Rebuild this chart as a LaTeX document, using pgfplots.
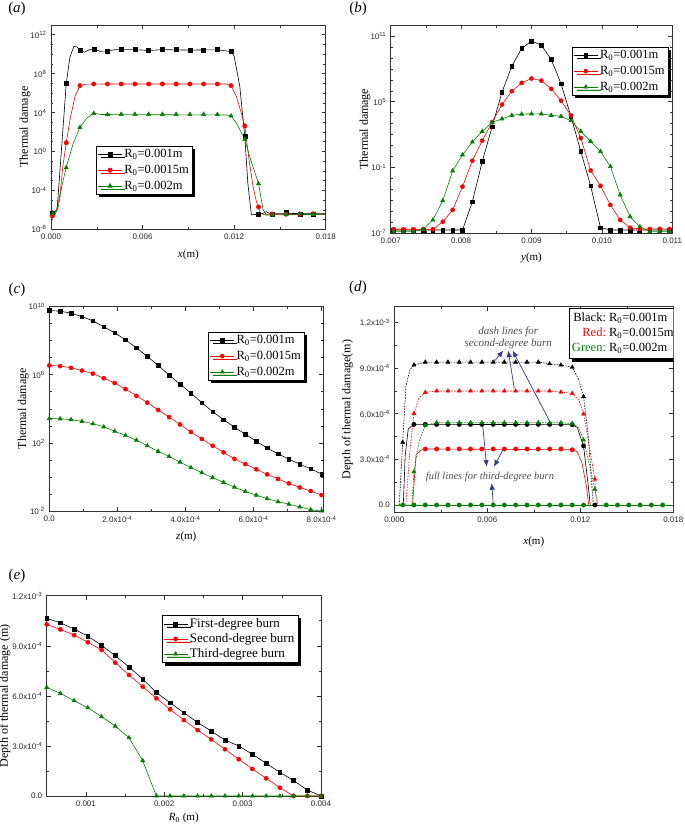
\documentclass[border=0pt]{standalone}
\usepackage{pgfplots}
\pgfplotsset{compat=1.18}
\usepackage{fontspec}
\setmainfont{Liberation Serif}
\newfontfamily\arial{Liberation Sans}
\usetikzlibrary{shadows,arrows.meta}
\definecolor{ogreen}{RGB}{0,128,0}
\definecolor{arrowblue}{RGB}{45,55,150}

\pgfplotsset{
  panel/.style={
    scale only axis, anchor=south west,
    axis line style={black!80, line width=0.6pt},
    tick align=inside, tick pos=both,
    xticklabel pos=left, yticklabel pos=left,
    major tick length=4pt, minor tick length=2.5pt,
    tick style={black!80, line width=0.5pt},
    ticklabel style={font=\arial\fontsize{8}{9}\selectfont, text=black!85},
    xticklabel style={yshift=-1.5pt},
    yticklabel style={xshift=-1pt},
    xlabel style={font=\fontsize{11}{12}\selectfont},
    ylabel style={font=\fontsize{12}{13}\selectfont},
    scaled ticks=false,
    legend cell align=left,
    legend style={draw=black, line width=0.5pt, fill=white, inner sep=1.5pt,
      font=\fontsize{12.5}{13}\selectfont, row sep=2pt,
      drop shadow={shadow xshift=3pt, shadow yshift=-3pt, fill=black, opacity=1}},
    legend image code/.code={\draw[mark repeat=2,mark phase=2,#1] plot coordinates {(0pt,0pt)(12pt,0pt)(24pt,0pt)};},
  },
  lk/.style={black, line width=0.6pt},
  lr/.style={red, line width=0.6pt},
  lg/.style={ogreen, line width=0.6pt},
  dsh/.style={line width=0.6pt, dash pattern=on 1.6pt off 1.2pt},
}

\begin{document}
\begin{tikzpicture}
\useasboundingbox (0pt,0pt) rectangle (685pt,-828pt);

\node[font=\fontsize{15}{16}\selectfont] at (17pt,-8.5pt) {(\textit{a})};
\node[font=\fontsize{15}{16}\selectfont] at (358pt,-8.5pt) {(\textit{b})};
\node[font=\fontsize{15}{16}\selectfont] at (17pt,-290pt) {(\textit{c})};
\node[font=\fontsize{15}{16}\selectfont] at (358pt,-288pt) {(\textit{d})};
\node[font=\fontsize{15}{16}\selectfont] at (17pt,-576pt) {(\textit{e})};

% ---------------- (a)
\begin{axis}[panel, at={(51pt,-229.3pt)}, width=274.7pt, height=204.3pt,
  xmin=0, xmax=0.018, ymode=log, ymin=1e-8, ymax=1e13,
  xtick={0,0.006,0.012,0.018}, xticklabels={0.000,0.006,0.012,0.018},
  minor xtick={0.003,0.009,0.015},
  ytick={1e-8,1e-4,1,1e4,1e8,1e12},
  yticklabels={10\textsuperscript{-8},10\textsuperscript{-4},10\textsuperscript{0},10\textsuperscript{4},10\textsuperscript{8},10\textsuperscript{12}},
  minor ytick={1e-7,1e-6,1e-5,1e-3,1e-2,1e-1,1e1,1e2,1e3,1e5,1e6,1e7,1e9,1e10,1e11},
  xlabel={\textit{x}(m)}, ylabel={Thermal damage},
  xlabel style={at={(axis description cs:0.5,-0.126)}, anchor=center},
  ylabel style={at={(axis description cs:-0.095,0.5)}, anchor=center},
  legend style={at={(0.164,0.409)}, anchor=north west},
]
\addlegendimage{lk, mark=square*, mark size=2pt}
\addlegendentry{R\textsubscript{0}=0.001m}
\addlegendimage{lr, mark=*, mark size=2.2pt}
\addlegendentry{R\textsubscript{0}=0.0015m}
\addlegendimage{lg, mark=triangle*, mark size=2.5pt}
\addlegendentry{R\textsubscript{0}=0.002m}

\addplot[lk, forget plot] table[row sep=\\, x=x, y expr={10^(\thisrow{e})}] {
x e\\ 0 -6.3\\ 0.0002 -6.3\\ 0.0004 -6.0\\ 0.0007 0.5\\ 0.001 7.0\\ 0.00124 9.7\\
0.0015 10.8\\ 0.0017 10.75\\ 0.0019 10.43\\ 0.0022 10.2\\ 0.0025 10.45\\ 0.0028 10.55\\
0.0032 10.3\\ 0.0037 10.33\\ 0.0042 10.47\\ 0.0055 10.47\\ 0.0064 10.38\\ 0.0073 10.47\\
0.0091 10.42\\ 0.0109 10.45\\ 0.0118 10.27\\ 0.012 9.8\\ 0.01237 6.7\\ 0.0127 1.5\\
0.0129 -3.3\\ 0.01313 -6.5\\ 0.0136 -6.46\\ 0.0139 -6.35\\ 0.0141 -6.2\\ 0.0143 -6.35\\ 0.018 -6.4\\
};
\addplot[lr, forget plot] table[row sep=\\, x=x, y expr={10^(\thisrow{e})}] {
x e\\ 0 -6.6\\ 0.0002 -6.5\\ 0.0004 -5.8\\ 0.0006 -4.3\\ 0.00077 -1.6\\ 0.001 0.9\\
0.00124 3.24\\ 0.00157 5.64\\ 0.0019 6.77\\ 0.0023 6.93\\ 0.0115 6.94\\ 0.0118 6.77\\
0.01215 5.64\\ 0.01241 4.27\\ 0.0127 2.62\\ 0.01298 -0.87\\ 0.01324 -3.62\\ 0.01346 -5.16\\
0.0136 -5.74\\ 0.0137 -6.35\\ 0.014 -6.5\\ 0.018 -6.45\\
};
\addplot[lg, forget plot] table[row sep=\\, x=x, y expr={10^(\thisrow{e})}] {
x e\\ 0 -6.4\\ 0.00026 -6.5\\ 0.00048 -5.67\\ 0.0007 -3.62\\ 0.001 -1.6\\ 0.00146 0.85\\
0.0019 2.5\\ 0.00234 3.42\\ 0.0028 3.93\\ 0.0033 3.8\\ 0.0115 3.75\\ 0.0118 3.66\\
0.01215 2.9\\ 0.0127 1.26\\ 0.01302 -0.53\\ 0.0136 -3.3\\ 0.0139 -6.0\\ 0.01412 -6.53\\ 0.018 -6.45\\
};
\addplot[black, only marks, mark=square*, mark size=2pt, forget plot] table[row sep=\\, x=x, y expr={10^(\thisrow{e})}] {
x e\\ 0.0001 -6.36\\ 0.001 7.0\\ 0.0019 10.43\\ 0.0028 10.53\\ 0.0037 10.33\\ 0.0046 10.47\\
0.0055 10.47\\ 0.0064 10.36\\ 0.0073 10.47\\ 0.0082 10.47\\ 0.0091 10.4\\ 0.01 10.43\\
0.0109 10.47\\ 0.0118 10.26\\ 0.0127 1.52\\ 0.0136 -6.46\\ 0.0145 -6.4\\ 0.0154 -6.29\\
0.0163 -6.4\\ 0.0172 -6.4\\
};
\addplot[red, only marks, mark=*, mark size=2.2pt, forget plot] table[row sep=\\, x=x, y expr={10^(\thisrow{e})}] {
x e\\ 0.0001 -6.63\\ 0.001 0.9\\ 0.0019 6.77\\ 0.0028 6.94\\ 0.0037 6.94\\ 0.0046 6.94\\
0.0055 6.94\\ 0.0064 6.94\\ 0.0073 6.94\\ 0.0082 6.94\\ 0.0091 6.94\\ 0.01 6.94\\
0.0109 6.94\\ 0.0118 6.77\\ 0.0127 2.62\\ 0.0136 -5.7\\ 0.0145 -6.42\\ 0.0154 -6.45\\
0.0163 -6.45\\ 0.0172 -6.4\\
};
\addplot[ogreen, only marks, mark=triangle*, mark size=2.5pt, forget plot] table[row sep=\\, x=x, y expr={10^(\thisrow{e})}] {
x e\\ 0.0001 -6.36\\ 0.001 -1.66\\ 0.0019 2.48\\ 0.0028 3.92\\ 0.0037 3.79\\ 0.0046 3.82\\
0.0055 3.82\\ 0.0064 3.82\\ 0.0073 3.82\\ 0.0082 3.82\\ 0.0091 3.82\\ 0.01 3.82\\
0.0109 3.8\\ 0.0118 3.65\\ 0.0127 1.25\\ 0.0136 -3.31\\ 0.0145 -6.53\\ 0.0154 -6.46\\
0.0163 -6.4\\ 0.0172 -6.46\\
};
\end{axis}

% ---------------- (b)
\begin{axis}[panel, at={(390.7pt,-233.3pt)}, width=281.6pt, height=208.3pt,
  xmin=0.007, xmax=0.011, ymode=log, ymin=1e-7, ymax=1e12,
  xtick={0.007,0.008,0.009,0.010,0.011}, xticklabels={0.007,0.008,0.009,0.010,0.011},
  minor xtick={0.0075,0.0085,0.0095,0.0105},
  ytick={1e-7,1e-1,1e5,1e11},
  yticklabels={10\textsuperscript{-7},10\textsuperscript{-1},10\textsuperscript{5},10\textsuperscript{11}},
  minor ytick={1e-6,1e-5,1e-4,1e-3,1e-2,1,1e1,1e2,1e3,1e4,1e6,1e7,1e8,1e9,1e10},
  xlabel={\textit{y}(m)}, ylabel={Thermal damage},
  xlabel style={at={(axis description cs:0.5,-0.12)}, anchor=center},
  ylabel style={at={(axis description cs:-0.091,0.5)}, anchor=center},
  legend style={at={(0.643,0.896)}, anchor=north west},
]
\addplot[lk, mark=square*, mark size=1.8pt] table[row sep=\\, x=x, y expr={10^(\thisrow{e})}] {
x e\\ 0.00704 -6.7\\ 0.00718 -6.7\\ 0.00732 -6.7\\ 0.00746 -6.7\\ 0.0076 -6.7\\ 0.00774 -6.7\\
0.00788 -6.7\\ 0.00802 -6.7\\ 0.00816 -4.11\\ 0.0083 -0.45\\ 0.00844 2.70\\ 0.00858 5.86\\
0.00872 8.24\\ 0.00886 9.86\\ 0.009 10.53\\ 0.00914 10.16\\ 0.00928 8.86\\ 0.00942 6.63\\
0.00956 3.67\\ 0.0097 0.47\\ 0.00984 -2.67\\ 0.00998 -6.49\\ 0.01012 -6.7\\ 0.01026 -6.7\\
0.0104 -6.7\\ 0.01054 -6.7\\ 0.01068 -6.7\\ 0.01082 -6.7\\ 0.01096 -6.7\\
};
\addlegendentry{R\textsubscript{0}=0.001m}
\addplot[lr, mark=*, mark size=2pt] table[row sep=\\, x=x, y expr={10^(\thisrow{e})}] {
x e\\ 0.00704 -6.63\\ 0.00718 -6.63\\ 0.00732 -6.63\\ 0.00746 -6.63\\ 0.0076 -6.63\\ 0.00774 -5.94\\
0.00788 -4.87\\ 0.00802 -2.74\\ 0.00816 -0.38\\ 0.0083 1.45\\ 0.00844 3.15\\ 0.00858 4.74\\
0.00872 5.96\\ 0.00886 6.72\\ 0.009 7.12\\ 0.00914 6.93\\ 0.00928 6.17\\ 0.00942 5.1\\
0.00956 3.76\\ 0.0097 1.69\\ 0.00984 -1.27\\ 0.00998 -2.67\\ 0.01012 -4.41\\ 0.01026 -5.78\\
0.0104 -6.49\\ 0.01054 -6.6\\ 0.01068 -6.6\\ 0.01082 -6.6\\ 0.01096 -6.6\\
};
\addlegendentry{R\textsubscript{0}=0.0015m}
\addplot[lg, mark=triangle*, mark size=2.3pt] table[row sep=\\, x=x, y expr={10^(\thisrow{e})}] {
x e\\ 0.00704 -6.85\\ 0.00718 -6.85\\ 0.00732 -6.85\\ 0.00746 -6.63\\ 0.0076 -5.78\\ 0.00774 -4.02\\
0.00788 -1.3\\ 0.00802 0.16\\ 0.00816 1.33\\ 0.0083 2.3\\ 0.00844 3.12\\ 0.00858 3.43\\
0.00872 3.76\\ 0.00886 3.87\\ 0.009 3.89\\ 0.00914 3.89\\ 0.00928 3.76\\ 0.00942 3.67\\
0.00956 3.27\\ 0.0097 2.3\\ 0.00984 1.39\\ 0.00998 0.47\\ 0.01012 -0.91\\ 0.01026 -3.5\\
0.0104 -5.48\\ 0.01054 -6.4\\ 0.01068 -6.85\\ 0.01082 -6.85\\ 0.01096 -6.85\\
};
\addlegendentry{R\textsubscript{0}=0.002m}
\end{axis}

% ---------------- (c)
\begin{axis}[panel, at={(49.3pt,-511pt)}, width=274pt, height=204.5pt,
  xmin=0, xmax=8.05e-4, ymode=log, ymin=1e-2, ymax=1e10,
  xtick={0,2e-4,4e-4,6e-4,8e-4},
  xticklabels={0.0,2.0x10\textsuperscript{-4},4.0x10\textsuperscript{-4},6.0x10\textsuperscript{-4},8.0x10\textsuperscript{-4}},
  minor xtick={1e-4,3e-4,5e-4,7e-4},
  ytick={1e-2,1e2,1e6,1e10},
  yticklabels={10\textsuperscript{-2},10\textsuperscript{2},10\textsuperscript{6},10\textsuperscript{10}},
  minor ytick={1e-1,1,1e1,1e3,1e4,1e5,1e7,1e8,1e9},
  xlabel={\textit{z}(m)}, ylabel={Thermal damage},
  xlabel style={at={(axis description cs:0.5,-0.126)}, anchor=center},
  ylabel style={at={(axis description cs:-0.095,0.5)}, anchor=center},
  legend style={at={(0.58,0.877)}, anchor=north west},
]
\addplot[lk, smooth, mark=square*, mark size=1.8pt] table[row sep=\\, x=x, y expr={10^(\thisrow{e})}] {
x e\\ 0 9.76\\ 3.2e-5 9.72\\ 6.4e-5 9.6\\ 9.6e-5 9.40\\ 1.28e-4 9.15\\ 1.6e-4 8.81\\
1.92e-4 8.45\\ 2.24e-4 8.04\\ 2.56e-4 7.57\\ 2.88e-4 7.07\\ 3.2e-4 6.54\\ 3.52e-4 5.98\\
3.84e-4 5.45\\ 4.16e-4 4.92\\ 4.48e-4 4.36\\ 4.8e-4 3.83\\ 5.12e-4 3.36\\ 5.44e-4 2.92\\
5.76e-4 2.51\\ 6.08e-4 2.09\\ 6.4e-4 1.70\\ 6.72e-4 1.36\\ 7.04e-4 1.04\\ 7.36e-4 0.75\\
7.68e-4 0.47\\ 8.0e-4 0.17\\
};
\addlegendentry{R\textsubscript{0}=0.001m}
\addplot[lr, smooth, mark=*, mark size=2pt] table[row sep=\\, x=x, y expr={10^(\thisrow{e})}] {
x e\\ 0 6.54\\ 3.2e-5 6.5\\ 6.4e-5 6.4\\ 9.6e-5 6.24\\ 1.28e-4 6.06\\ 1.6e-4 5.79\\
1.92e-4 5.51\\ 2.24e-4 5.15\\ 2.56e-4 4.76\\ 2.88e-4 4.36\\ 3.2e-4 3.93\\ 3.52e-4 3.51\\
3.84e-4 3.08\\ 4.16e-4 2.64\\ 4.48e-4 2.23\\ 4.8e-4 1.83\\ 5.12e-4 1.44\\ 5.44e-4 1.06\\
5.76e-4 0.75\\ 6.08e-4 0.45\\ 6.4e-4 0.15\\ 6.72e-4 -0.12\\ 7.04e-4 -0.38\\ 7.36e-4 -0.62\\
7.68e-4 -0.83\\ 8.0e-4 -1.07\\
};
\addlegendentry{R\textsubscript{0}=0.0015m}
\addplot[lg, smooth, mark=triangle*, mark size=2.3pt] table[row sep=\\, x=x, y expr={10^(\thisrow{e})}] {
x e\\ 0 3.43\\ 3.2e-5 3.41\\ 6.4e-5 3.36\\ 9.6e-5 3.26\\ 1.28e-4 3.12\\ 1.6e-4 2.94\\
1.92e-4 2.68\\ 2.24e-4 2.43\\ 2.56e-4 2.15\\ 2.88e-4 1.83\\ 3.2e-4 1.50\\ 3.52e-4 1.20\\
3.84e-4 0.87\\ 4.16e-4 0.55\\ 4.48e-4 0.25\\ 4.8e-4 -0.04\\ 5.12e-4 -0.32\\ 5.44e-4 -0.60\\
5.76e-4 -0.85\\ 6.08e-4 -1.07\\ 6.4e-4 -1.27\\ 6.72e-4 -1.45\\ 7.04e-4 -1.6\\ 7.36e-4 -1.76\\
7.68e-4 -1.92\\ 8.0e-4 -2.0\\
};
\addlegendentry{R\textsubscript{0}=0.002m}
\end{axis}

% ---------------- (d)
\begin{axis}[panel, at={(394.3pt,-512.3pt)}, width=279pt, height=205.6pt,
  xmin=0, xmax=0.018, ymin=-4.8e-5, ymax=1.303e-3,
  xtick={0,0.006,0.012,0.018}, xticklabels={0.000,0.006,0.012,0.018},
  minor xtick={0.003,0.009,0.015},
  ytick={0,3e-4,6e-4,9e-4,1.2e-3},
  yticklabels={0.0,3.0x10\textsuperscript{-4},6.0x10\textsuperscript{-4},9.0x10\textsuperscript{-4},1.2x10\textsuperscript{-3}},
  minor ytick={1.5e-4,4.5e-4,7.5e-4,1.05e-3},
  xlabel={\textit{x}(m)}, ylabel={Depth of thermal damage(m)},
  xlabel style={at={(axis description cs:0.5,-0.145)}, anchor=center},
  ylabel style={at={(axis description cs:-0.168,0.5)}, anchor=center},
]
% third-degree (solid)
\addplot[lg] coordinates {(0,0) (0.018,0)};
\addplot[lk] coordinates {(0.00058,0) (0.0007,3.2e-4) (0.0009,5.0e-4) (0.00127,5.3e-4)
  (0.01148,5.28e-4) (0.0118,5.1e-4) (0.01221,3.88e-4) (0.0125,1.4e-4) (0.01264,0)};
\addplot[lr] coordinates {(0.00118,0) (0.0014,3.3e-4) (0.0017,3.6e-4) (0.002,3.68e-4)
  (0.01148,3.63e-4) (0.0118,3.5e-4) (0.0121,2.8e-4) (0.0124,1.2e-4) (0.01254,0)};
% second-degree (dashed)
\addplot[black, dsh] coordinates {(0.00032,0) (0.00054,4.12e-4) (0.00075,7.8e-4) (0.00101,8.9e-4)
  (0.00127,9.2e-4) (0.002,9.39e-4) (0.00929,9.39e-4) (0.01002,9.28e-4) (0.01075,9.2e-4)
  (0.01148,9.05e-4) (0.01187,8.3e-4) (0.01221,7.12e-4) (0.01252,4.5e-4) (0.01273,1.5e-4) (0.01284,0)};
\addplot[red, dsh] coordinates {(0.00075,0) (0.001,3.5e-4) (0.00127,6.02e-4) (0.0016,7.05e-4)
  (0.002,7.4e-4) (0.00273,7.49e-4) (0.01002,7.49e-4) (0.01075,7.42e-4) (0.01148,7.33e-4)
  (0.0119,6.9e-4) (0.01221,5.98e-4) (0.0125,4.3e-4) (0.01294,1.69e-4) (0.01305,0)};
\addplot[ogreen, dsh] coordinates {(0.00113,0) (0.00127,2.19e-4) (0.0016,4.2e-4) (0.002,5.25e-4)
  (0.00273,5.41e-4) (0.01075,5.41e-4) (0.01148,5.35e-4) (0.0119,5.1e-4) (0.01221,4.27e-4)
  (0.0126,2.6e-4) (0.01294,1.03e-4) (0.01315,0)};
% markers
\addplot[black, only marks, mark=*, mark size=2.2pt] coordinates {(0.00127,5.3e-4) (0.002,5.3e-4)
  (0.00273,5.3e-4) (0.00346,5.3e-4) (0.00419,5.3e-4) (0.00492,5.3e-4) (0.00565,5.3e-4) (0.00638,5.3e-4)
  (0.0071,5.3e-4) (0.00783,5.3e-4) (0.00856,5.3e-4) (0.00929,5.3e-4) (0.01002,5.3e-4) (0.01075,5.3e-4)
  (0.01148,5.28e-4) (0.01221,3.88e-4)};
\addplot[red, only marks, mark=*, mark size=2.2pt] coordinates {(0.002,3.68e-4)
  (0.00273,3.68e-4) (0.00346,3.68e-4) (0.00419,3.68e-4) (0.00492,3.68e-4) (0.00565,3.68e-4) (0.00638,3.68e-4)
  (0.0071,3.68e-4) (0.00783,3.68e-4) (0.00856,3.68e-4) (0.00929,3.68e-4) (0.01002,3.68e-4) (0.01075,3.68e-4)
  (0.01148,3.63e-4)};
\addplot[ogreen, only marks, mark=*, mark size=2.2pt] coordinates {(0.00054,0) (0.00127,0) (0.002,0)
  (0.00273,0) (0.00346,0) (0.00419,0) (0.00492,0) (0.00565,0) (0.00638,0) (0.0071,0) (0.00783,0)
  (0.00856,0) (0.00929,0) (0.01002,0) (0.01075,0) (0.01148,0) (0.01221,0) (0.01367,0)
  (0.0144,0) (0.01513,0) (0.01586,0) (0.01659,0) (0.01731,0)};
\addplot[black, only marks, mark=*, mark size=2.2pt] coordinates {(0.01294,0)};
\addplot[black, only marks, mark=triangle*, mark size=2.4pt] coordinates {(0.00054,4.12e-4)
  (0.00127,9.2e-4) (0.002,9.39e-4) (0.00273,9.39e-4) (0.00346,9.39e-4) (0.00419,9.39e-4)
  (0.00492,9.39e-4) (0.00565,9.39e-4) (0.00638,9.39e-4) (0.0071,9.39e-4) (0.00783,9.39e-4)
  (0.00856,9.39e-4) (0.00929,9.39e-4) (0.01002,9.28e-4) (0.01075,9.2e-4) (0.01148,9.05e-4)
  (0.01221,7.12e-4)};
\addplot[red, only marks, mark=triangle*, mark size=2.4pt] coordinates {(0.00127,6.02e-4)
  (0.002,7.4e-4) (0.00273,7.49e-4) (0.00346,7.49e-4) (0.00419,7.49e-4) (0.00492,7.49e-4)
  (0.00565,7.49e-4) (0.00638,7.49e-4) (0.0071,7.49e-4) (0.00783,7.49e-4) (0.00856,7.49e-4)
  (0.00929,7.49e-4) (0.01002,7.49e-4) (0.01075,7.42e-4) (0.01148,7.33e-4) (0.01221,5.98e-4)
  (0.01294,1.69e-4)};
\addplot[ogreen, only marks, mark=triangle*, mark size=2.4pt] coordinates {(0.00127,2.19e-4)
  (0.002,5.25e-4) (0.00273,5.41e-4) (0.00346,5.41e-4) (0.00419,5.41e-4) (0.00492,5.41e-4)
  (0.00565,5.41e-4) (0.00638,5.41e-4) (0.0071,5.41e-4) (0.00783,5.41e-4) (0.00856,5.41e-4)
  (0.00929,5.41e-4) (0.01002,5.41e-4) (0.01075,5.41e-4) (0.01148,5.35e-4) (0.01221,4.27e-4)
  (0.01294,1.03e-4)};
% annotations
\node[font=\itshape\fontsize{11}{12}\selectfont, text=black!70, align=center]
  at (axis cs:0.00735,1.10e-3) {dash lines for\\second-degree burn};
\node[font=\itshape\fontsize{10.5}{11}\selectfont, text=black!70]
  at (axis cs:0.00617,1.84e-4) {full lines for third-degree burn};
\begin{scope}[arrowblue, line width=0.7pt, -{Latex[length=6.5pt,width=5.5pt]}]
\draw (axis cs:0.00643,9.42e-4) -- (axis cs:0.00703,1.014e-3);
\draw (axis cs:0.00774,7.65e-4) -- (axis cs:0.00735,1.014e-3);
\draw (axis cs:0.0100,5.55e-4) -- (axis cs:0.00764,1.014e-3);
\draw (axis cs:0.0057,5.26e-4) -- (axis cs:0.00596,2.52e-4);
\draw (axis cs:0.0070,3.61e-4) -- (axis cs:0.00643,2.52e-4);
\draw (axis cs:0.00639,0) -- (axis cs:0.00628,1.43e-4);
\end{scope}
\node[draw=black, line width=0.5pt, fill=white, anchor=north west, inner sep=2.5pt,
  font=\fontsize{12.5}{15}\selectfont,
  drop shadow={shadow xshift=3pt, shadow yshift=-3pt, fill=black, opacity=1}]
  at (rel axis cs:0.627,0.992) {\begin{tabular}{@{}r@{\ }l@{}}
  Black: & R\textsubscript{0}=0.001m\\
  \textcolor{red}{Red:} & R\textsubscript{0}=0.0015m\\
  \textcolor{ogreen}{Green:} & R\textsubscript{0}=0.002m
  \end{tabular}};
\end{axis}

% ---------------- (e)
\begin{axis}[panel, at={(46.7pt,-796pt)}, width=274.3pt, height=200.3pt,
  xmin=0.0005, xmax=0.004, ymin=0, ymax=1.2e-3,
  xtick={0.001,0.002,0.003,0.004}, xticklabels={0.001,0.002,0.003,0.004},
  minor xtick={0.0015,0.0025,0.0035},
  ytick={0,3e-4,6e-4,9e-4,1.2e-3},
  yticklabels={0.0,3.0x10\textsuperscript{-4},6.0x10\textsuperscript{-4},9.0x10\textsuperscript{-4},1.2x10\textsuperscript{-3}},
  minor ytick={1.5e-4,4.5e-4,7.5e-4,1.05e-3},
  xlabel={\textit{R}\textsubscript{0} (m)}, ylabel={Depth of thermal damage (m)},
  xlabel style={at={(axis description cs:0.5,-0.111)}, anchor=center},
  ylabel style={at={(axis description cs:-0.152,0.5)}, anchor=center},
  legend style={at={(0.419,0.904)}, anchor=north west, font=\fontsize{13}{13.5}\selectfont, row sep=0.5pt},
]
\addplot[lk, mark=square*, mark size=1.9pt] coordinates {
(0.0005,1.064e-3) (0.000675,1.038e-3) (0.00085,1.0e-3) (0.001025,9.58e-4) (0.0012,9.03e-4)
(0.001375,8.41e-4) (0.00155,7.73e-4) (0.001725,7.01e-4) (0.0019,6.19e-4) (0.002075,5.59e-4)
(0.00225,4.99e-4) (0.002425,4.41e-4) (0.0026,3.89e-4) (0.002775,3.35e-4) (0.00295,3.0e-4)
(0.003125,2.5e-4) (0.0033,1.96e-4) (0.003475,1.42e-4) (0.00365,9.2e-5) (0.003825,3.6e-5) (0.004,0)};
\addlegendentry{First-degree burn}
\addplot[lr, mark=*, mark size=2pt] coordinates {
(0.0005,1.028e-3) (0.000675,9.98e-4) (0.00085,9.64e-4) (0.001025,9.21e-4) (0.0012,8.75e-4)
(0.001375,7.99e-4) (0.00155,7.25e-4) (0.001725,6.55e-4) (0.0019,5.85e-4) (0.002075,5.19e-4)
(0.00225,4.55e-4) (0.002425,3.95e-4) (0.0026,3.39e-4) (0.002775,2.8e-4) (0.00295,2.2e-4)
(0.003125,1.62e-4) (0.0033,1.06e-4) (0.003475,5.0e-5) (0.00365,0) (0.003825,0) (0.004,0)};
\addlegendentry{Second-degree burn}
\addplot[lg, mark=triangle*, mark size=2.3pt] coordinates {
(0.0005,6.51e-4) (0.000675,6.15e-4) (0.00085,5.71e-4) (0.001025,5.29e-4) (0.0012,4.75e-4)
(0.001375,4.19e-4) (0.00155,3.49e-4) (0.001725,2.12e-4) (0.0019,0) (0.002075,0)
(0.00225,0) (0.002425,0) (0.0026,0) (0.002775,0) (0.00295,0) (0.003125,0) (0.0033,0)
(0.003475,0) (0.00365,0) (0.003825,0) (0.004,0)};
\addlegendentry{Third-degree burn}
\end{axis}
\end{tikzpicture}
\end{document}
